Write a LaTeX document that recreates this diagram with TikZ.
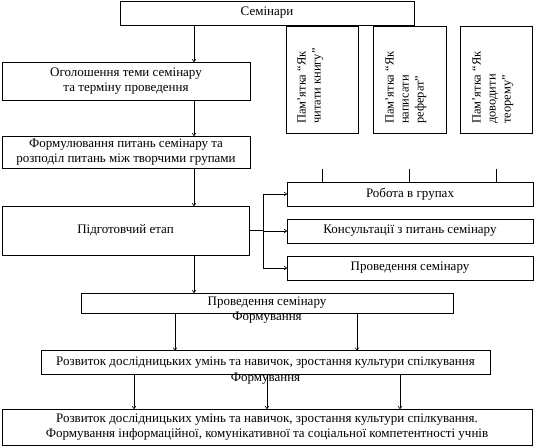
\documentclass[tikz,border=0pt]{standalone}
\usepackage{fontspec}
\setmainfont{Liberation Serif}
\usetikzlibrary{arrows.meta, positioning, calc}

\begin{document}
\begin{tikzpicture}[x=1pt, y=-1pt,
    box/.style={draw, outer sep=0pt, inner sep=1pt, align=center, font=\fontsize{13}{15.5}\selectfont},
    memotxt/.style={rotate=90, anchor=north west, align=left, inner sep=0pt, font=\fontsize{12.5}{15}\selectfont},
    plain/.style={inner sep=0pt, font=\fontsize{13}{15.5}\selectfont},
    arr/.style={-{To[length=3pt, width=4pt]}, semithick}]
  \useasboundingbox (0,0) rectangle (534,446);
  % top
  \node[box, minimum width=294pt, minimum height=24pt] (sem) at (267,13) {Семінари};
  \node[box, minimum width=72pt, minimum height=107pt] (pam1) at (322,79.5) {};
  \node[box, minimum width=73pt, minimum height=107pt] (pam2) at (409.5,79.5) {};
  \node[box, minimum width=72pt, minimum height=107pt] (pam3) at (496,79.5) {};
  \node[memotxt] (pam1t) at ([shift={(11pt,9pt)}]pam1.south west) {Пам’ятка “Як\\читати книгу”};
  \node[memotxt] (pam2t) at ([shift={(12pt,9pt)}]pam2.south west) {Пам’ятка “Як\\написати\\реферат”};
  \node[memotxt] (pam3t) at ([shift={(12pt,9pt)}]pam3.south west) {Пам’ятка “Як\\доводити\\теорему”};
  % left column
  \node[box, minimum width=248pt, minimum height=38pt] (ogol) at (126,81) {Оголошення теми семінару\\та терміну проведення};
  \node[box, minimum width=248pt, minimum height=32pt] (form) at (126,152) {Формулювання питань семінару та\\розподіл питань між творчими групами};
  \node[box, minimum width=247pt, minimum height=49.5pt] (pidg) at (125.5,230.75) {Підготовчий етап};
  % right column
  \node[box, minimum width=246pt, minimum height=24pt] (robota) at (410,194) {Робота в групах};
  \node[box, minimum width=246pt, minimum height=24pt] (kons) at (410,231) {Консультації з питань семінару};
  \node[box, minimum width=246pt, minimum height=24pt] (provr) at (410,268) {Проведення семінару};
  % bottom
  \node[box, minimum width=372pt, minimum height=20pt] (prov) at (267,303) {Проведення семінару};
  \node[plain] (provf) at ([yshift=-5pt]prov.south) {Формування};
  \node[box, minimum width=449pt, minimum height=24pt] (rozv) at (265.5,362.5) {Розвиток дослідницьких умінь та навичок, зростання культури спілкування};
  \node[plain] (rozvf) at ([yshift=-4pt]rozv.south) {Формування};
  \node[box, minimum width=530pt, minimum height=36pt] (res) at (267,427) {Розвиток дослідницьких умінь та навичок, зростання культури спілкування.\\Формування інформаційної, комунікативної та соціальної компетентності учнів};
  % connectors
  \coordinate (col) at (194,0);
  \draw[arr] (sem.south -| col) -- (ogol.north -| col);
  \draw[arr] (ogol.south -| col) -- (form.north -| col);
  \draw[arr] (form.south -| col) -- (pidg.north -| col);
  \draw[arr] (pidg.south -| col) -- (prov.north -| col);
  \coordinate (br) at ([xshift=14pt]pidg.east);
  \foreach \t in {robota, kons, provr}
    \draw[arr] (pidg.east) -- (br) |- (\t.west);
  \coordinate (tk) at (0,169);
  \foreach \p in {pam1, pam2, pam3}
    \draw (\p.south |- tk) -- (\p.south |- robota.north);
  \foreach \x in {175, 357}
    \draw[arr] (prov.south -| \x,0) -- (rozv.north -| \x,0);
  \foreach \x in {134, 267, 400}
    \draw[arr] (rozv.south -| \x,0) -- (res.north -| \x,0);
\end{tikzpicture}
\end{document}
